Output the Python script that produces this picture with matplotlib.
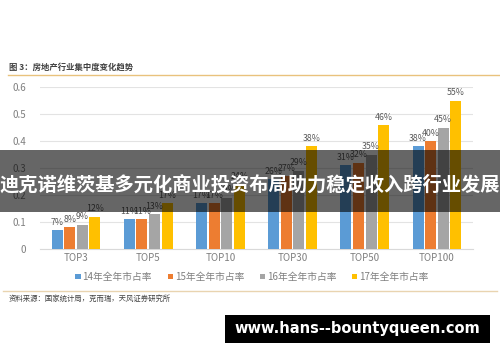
import matplotlib
matplotlib.use("Agg")
import matplotlib.pyplot as plt
import numpy as np
from matplotlib.patches import Rectangle

plt.rcParams['font.family'] = ['Noto Sans CJK SC', 'DejaVu Sans']

categories = ["TOP3", "TOP5", "TOP10", "TOP30", "TOP50", "TOP100"]
series_names = ["14年全年市占率", "15年全年市占率", "16年全年市占率", "17年全年市占率"]
s14 = [0.07, 0.11, 0.17, 0.26, 0.31, 0.38]
s15 = [0.08, 0.11, 0.17, 0.27, 0.32, 0.40]
s16 = [0.09, 0.13, 0.19, 0.29, 0.35, 0.45]
s17 = [0.12, 0.17, 0.24, 0.38, 0.46, 0.55]
series = [s14, s15, s16, s17]
colors = ["#5B9BD5", "#ED7D31", "#A5A5A5", "#FFC000"]
yticks = [0, 0.1, 0.2, 0.3, 0.4, 0.5, 0.6]
ytick_labels = ["0", "0.1", "0.2", "0.3", "0.4", "0.5", "0.6"]

W, H = 500, 362
fig = plt.figure(figsize=(W / 100, H / 100), dpi=100)
fig.patch.set_facecolor("white")

def fx(x):
    return x / W

def fy(y):
    return 1 - y / H

ax = fig.add_axes([fx(40), fy(249), fx(473) - fx(40), fy(87) - fy(249)])
x = np.arange(len(categories))
slot = 0.174
bw = 0.152
for i, (vals, c, name) in enumerate(zip(series, colors, series_names)):
    pos = x + (i - 1.5) * slot
    ax.bar(pos, vals, width=bw, color=c, label=name, zorder=3)
    for p, v in zip(pos, vals):
        ax.text(p, v + 0.012, f"{round(v*100)}%", ha="center", va="bottom",
                fontsize=6.3, color="#595959", zorder=4)

ax.set_xlim(-0.5, len(categories) - 0.5)
ax.set_ylim(0, 0.6)
ax.set_yticks(yticks)
ax.set_yticklabels(ytick_labels)
ax.set_xticks(x)
ax.set_xticklabels(categories)
ax.tick_params(axis="both", length=0, labelsize=7, colors="#7F7F7F")
ax.tick_params(axis="y", pad=10)
ax.tick_params(axis="x", pad=3)
ax.grid(axis="y", color="#E3E3E3", linewidth=0.8, zorder=0)
for s in ["top", "right", "left"]:
    ax.spines[s].set_visible(False)
ax.spines["bottom"].set_color("#D9D9D9")
ax.spines["bottom"].set_linewidth(0.8)

leg = fig.legend(loc="center", bbox_to_anchor=(fx(252), fy(277)), ncol=4,
                 frameon=False, fontsize=7, handlelength=0.55, handleheight=0.55,
                 handletextpad=0.2, columnspacing=1.6)
for t in leg.get_texts():
    t.set_color("#7F7F7F")

# title and lines
fig.text(fx(9), fy(67), "图 3：房地产行业集中度变化趋势", fontsize=6, fontweight="bold",
         color="#404040", ha="left", va="center")
fig.add_artist(plt.Line2D([fx(8), fx(500)], [fy(75), fy(75)], color="#E9C27D", linewidth=1.0))
fig.add_artist(plt.Line2D([fx(3), fx(497)], [fy(291), fy(291)], color="#E9D4B0", linewidth=1.0))
fig.text(fx(9), fy(299), "资料来源：国家统计局，克而瑞，天风证券研究所", fontsize=5.3,
         color="#404040", ha="left", va="center")

# banner overlay
fig.add_artist(Rectangle((0, fy(212)), 1, fy(150) - fy(212), transform=fig.transFigure,
                         facecolor="black", alpha=0.6, edgecolor="none", zorder=10))
fig.text(0.5, fy(185), "迪克诺维茨基多元化商业投资布局助力稳定收入跨行业发展", fontsize=13.9,
         fontweight="bold", color="white", ha="center", va="center", zorder=11)

# watermark box
fig.add_artist(Rectangle((fx(225), fy(343)), fx(490) - fx(225), fy(315) - fy(343),
                         transform=fig.transFigure, facecolor="black", edgecolor="none", zorder=10))
fig.text(fx(357), fy(329), "www.hans--bountyqueen.com", fontsize=10.5, fontweight="bold",
         color="white", ha="center", va="center", zorder=11, family="DejaVu Sans")

fig.savefig("out.png", dpi=100, facecolor="white")
